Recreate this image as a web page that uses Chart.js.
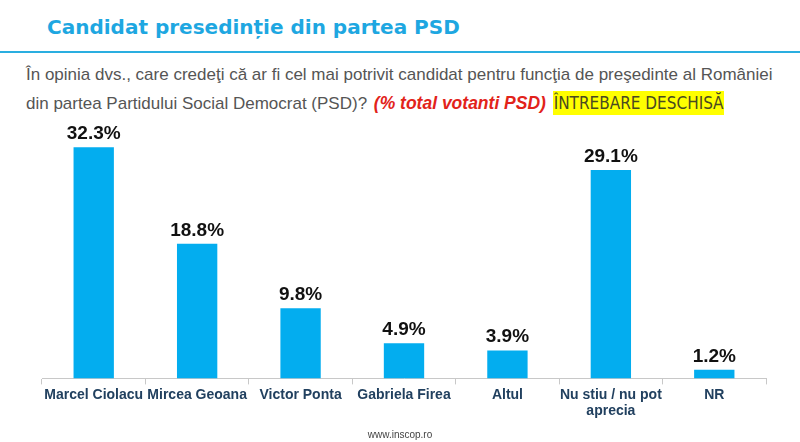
<!DOCTYPE html>
<html>
<head>
<meta charset="utf-8">
<script src="https://cdn.jsdelivr.net/npm/chart.js@4.4.0/dist/chart.umd.min.js"></script>
<style>
  html, body { margin: 0; padding: 0; background: #fff; }
  #wrap { position: relative; width: 800px; height: 442px; overflow: hidden; }
  #title { position: absolute; left: 47px; top: 17px; line-height: 20px; font-family: "DejaVu Sans", sans-serif; font-weight: bold; font-size: 20px; color: #1ea7e1; white-space: nowrap; }
  #rule { position: absolute; left: 0; top: 51px; width: 800px; height: 2px; background: #2aaee0; }
  .q { position: absolute; left: 26px; font-family: "Liberation Sans", Arial, sans-serif; font-size: 17px; color: #555; white-space: nowrap; }
  #q1 { top: 65px; }
  #q2 { top: 93px; }
  .red { color: #e2231a; font-weight: bold; font-style: italic; font-size: 17.5px; margin-left: 2px; }
  .hl { background: #ffff00; color: #4a4a20; font-family: "DejaVu Sans Condensed", "DejaVu Sans", sans-serif; padding: 2px 1px; margin-left: 2px; }
  #foot { position: absolute; left: 0; width: 800px; top: 429px; text-align: center; font-family: "Liberation Sans", Arial, sans-serif; font-size: 10px; color: #444; }
  canvas { position: absolute; left: 0; top: 0; }
</style>
</head>
<body>
<div id="wrap">
  <div id="title">Candidat presedinție din partea PSD</div>
  <div id="rule"></div>
  <div class="q" id="q1">În opinia dvs., care credeţi că ar fi cel mai potrivit candidat pentru funcţia de preşedinte al României</div>
  <div class="q" id="q2">din partea Partidului Social Democrat (PSD)? <span class="red">(% total votanti PSD)</span> <span class="hl">ÎNTREBARE DESCHISĂ</span></div>
  <canvas id="c" width="800" height="442"></canvas>
  <div id="foot">www.inscop.ro</div>
</div>
<script>
var categories = ['Marcel Ciolacu', 'Mircea Geoana', 'Victor Ponta', 'Gabriela Firea', 'Altul', ['Nu stiu / nu pot', 'aprecia'], 'NR'];
var values = [32.3, 18.8, 9.8, 4.9, 3.9, 29.1, 1.2];

var valueLabels = {
  id: 'valueLabels',
  afterDatasetsDraw: function (chart) {
    var ctx = chart.ctx;
    var meta = chart.getDatasetMeta(0);
    ctx.save();
    ctx.font = 'bold 19px "Liberation Sans", Arial, sans-serif';
    ctx.fillStyle = '#111';
    ctx.textAlign = 'center';
    ctx.textBaseline = 'bottom';
    meta.data.forEach(function (bar, i) {
      ctx.fillText(values[i].toFixed(1) + '%', bar.x, bar.y - 4);
    });
    ctx.restore();
  }
};

new Chart(document.getElementById('c').getContext('2d'), {
  type: 'bar',
  data: {
    labels: categories,
    datasets: [{
      data: values,
      backgroundColor: '#03adef',
      barPercentage: 0.39,
      categoryPercentage: 1
    }]
  },
  options: {
    responsive: false,
    animation: false,
    layout: { padding: { left: 42, right: 34, top: 92, bottom: 20 } },
    plugins: { legend: { display: false }, tooltip: { enabled: false } },
    scales: {
      y: { display: false, min: 0, max: 40 },
      x: {
        border: { display: true, color: '#c8c8c8', width: 1 },
        grid: { display: true, offset: true, drawOnChartArea: false, drawTicks: true, tickLength: 6, color: '#c8c8c8' },
        ticks: {
          color: '#21405f',
          padding: 2,
          maxRotation: 0,
          autoSkip: false,
          font: { family: '"Liberation Sans", Arial, sans-serif', weight: 'bold', size: 14, lineHeight: 1.2 }
        }
      }
    }
  },
  plugins: [valueLabels]
});
</script>
</body>
</html>
